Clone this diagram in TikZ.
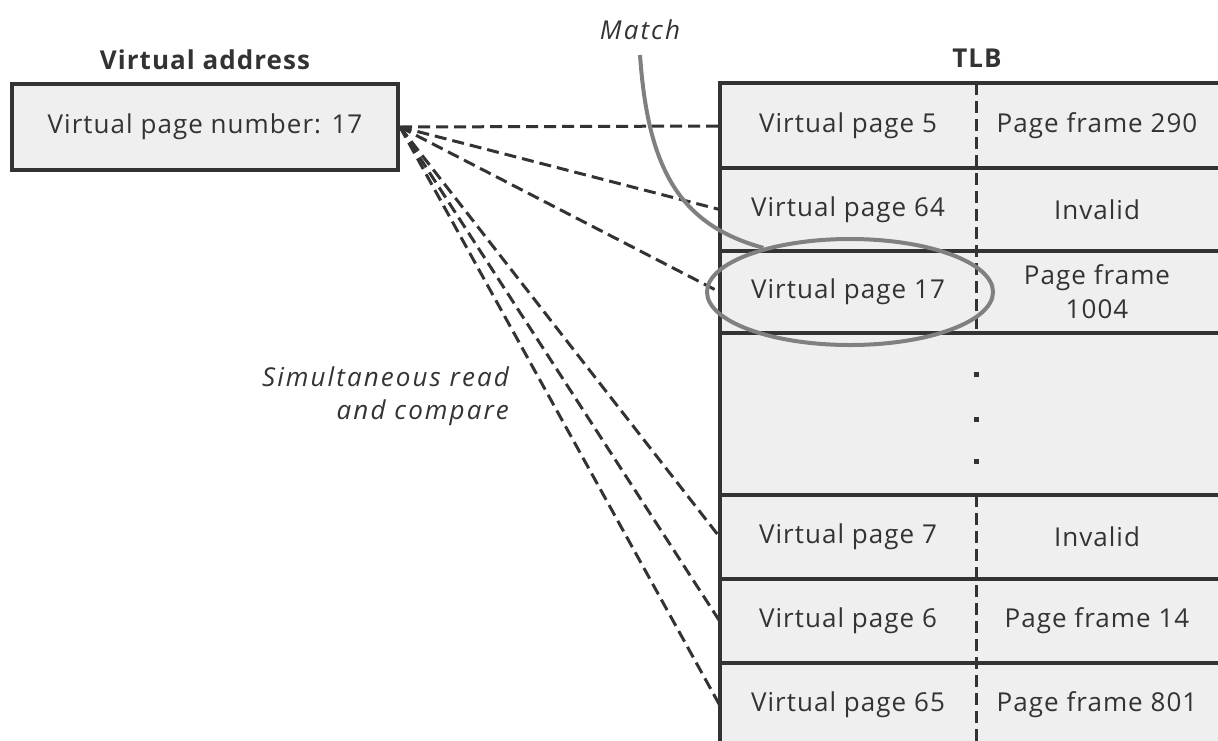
\documentclass[tikz,border=0pt]{standalone}
\usepackage{fontspec}
\setmainfont{Open Sans}[LetterSpace=4]
\usetikzlibrary{positioning,shapes.geometric}
\definecolor{cellfill}{HTML}{EFEFEF}
\definecolor{rule}{HTML}{333333}
\definecolor{hitgray}{HTML}{808080}

\begin{document}
\begin{tikzpicture}[x=0.5pt,y=-0.5pt,font=\fontsize{13}{17}\selectfont,
  cell/.style={minimum width=128pt,minimum height=41pt,inner sep=0pt,align=center,text=rule},
  probe/.style={draw=rule,line width=1.5pt,dash pattern=on 6pt off 3pt},
  title/.style={font=\fontsize{13}{15}\selectfont\bfseries,text=rule},
  note/.style={font=\fontsize{13}{16.5}\selectfont\itshape\addfontfeatures{LetterSpace=8},text=rule}]
  \clip (0,0) rectangle (1218,740);
  % virtual address box
  \node[title] (vatitle) at (205,60) {Virtual address};
  \node[draw=rule,fill=cellfill,line width=2pt,minimum width=193pt,minimum height=43pt,
    inner sep=0pt,text=rule] (va) at (205,127) {Virtual page number: 17};
  % TLB table
  \node[title] (tlbtitle) at (977,58) {TLB};
  \fill[cellfill] (720,83) rectangle (1230,750);
  \foreach \y in {168,251,333,495,579,663}
    \draw[rule,line width=2pt] (720,\y) -- (1230,\y);
  \draw[rule,line width=2pt] (1230,83) -- (720,83) -- (720,750);
  \draw[probe] (976,83) -- (976,333);
  \draw[probe] (976,495) -- (976,750);
  \foreach \y in {374,419,461}
    \fill[rule] (973.5,\y-2.5) rectangle ++(5,5);
  \foreach \n/\y/\l/\r in {vp5/126/{Virtual page 5}/{Page frame 290},
      vp64/209.5/{Virtual page 64}/{Invalid},
      vp17/292/{Virtual page 17}/{Page frame\\1004},
      vp7/537/{Virtual page 7}/{Invalid},
      vp6/621/{Virtual page 6}/{Page frame 14},
      vp65/705/{Virtual page 65}/{Page frame 801}} {
    \node[cell] (\n) at (848,\y) {\l};
    \node[cell] (\n r) at (1097,\y) {\r};
  }
  % parallel compare
  \foreach \n in {vp5,vp64,vp17,vp7,vp6,vp65}
    \draw[probe] (va.east) -- (\n.west);
  \node[note,align=right,anchor=east] (simul) at (516,396) {Simultaneous read\\and compare};
  % match
  \node[ellipse,draw=hitgray,line width=2pt,minimum width=143pt,minimum height=53pt] (hit) at (850,292) {};
  \node[note] (match) at (640,30) {Match};
  \coordinate (matchtop) at (640,55);
  \draw[hitgray,line width=2pt] (matchtop) .. controls (648,170) and (680,225) .. (hit.153);
\end{tikzpicture}
\end{document}
